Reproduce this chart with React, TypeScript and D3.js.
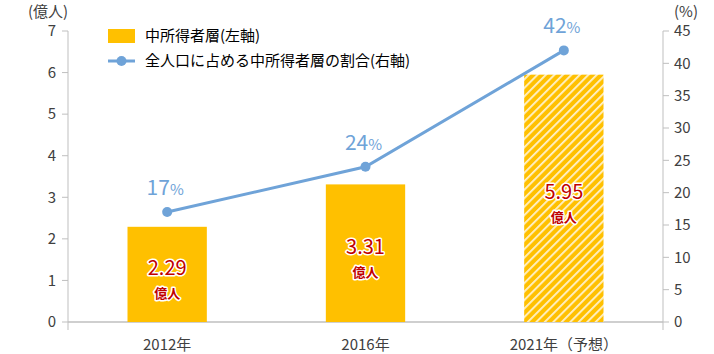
import React, { useEffect, useRef } from 'react';
import * as d3 from 'd3';

const categories = ['2012年', '2016年', '2021年（予想）'];
const population = [2.29, 3.31, 5.95];
const popLabels = ['2.29', '3.31', '5.95'];
const share = [17, 24, 42];
const forecast = [false, false, true];
const leftTicks = [0, 1, 2, 3, 4, 5, 6, 7];
const rightTicks = [0, 5, 10, 15, 20, 25, 30, 35, 40, 45];

const FONT = '"Noto Sans CJK JP", "Noto Sans", sans-serif';

const App = () => {
  const ref = useRef<SVGSVGElement | null>(null);

  useEffect(() => {
    const svg = d3.select(ref.current);
    svg.selectAll('*').remove();

    const left = 68;
    const right = 663;
    const top = 31;
    const bottom = 322;
    const axisColor = '#bfbfbf';
    const textColor = '#404040';
    const blue = '#6fa3d8';

    // hatch pattern for the forecast bar
    const pat = svg.append('defs').append('pattern')
      .attr('id', 'hatch')
      .attr('patternUnits', 'userSpaceOnUse')
      .attr('width', 6)
      .attr('height', 6)
      .attr('patternTransform', 'rotate(45)');
    pat.append('rect').attr('width', 6).attr('height', 6).attr('fill', '#ffc000');
    pat.append('rect').attr('width', 1.8).attr('height', 6).attr('fill', '#fff2cc');

    const x = d3.scaleBand().domain(categories).range([left, right]);
    const yL = d3.scaleLinear().domain([0, 7]).range([bottom, top]);
    const yR = d3.scaleLinear().domain([0, 45]).range([bottom, top]);
    const barW = x.bandwidth() * 0.4;
    const cx = (c: string) => (x(c) as number) + x.bandwidth() / 2;

    // axis lines
    svg.append('line').attr('x1', left).attr('x2', left).attr('y1', top).attr('y2', bottom + 8)
      .attr('stroke', axisColor);
    svg.append('line').attr('x1', right).attr('x2', right).attr('y1', top).attr('y2', bottom + 8)
      .attr('stroke', axisColor);
    svg.append('line').attr('x1', left).attr('x2', right).attr('y1', bottom).attr('y2', bottom)
      .attr('stroke', axisColor).attr('stroke-width', 1.5);

    // left ticks
    const lt = svg.append('g').selectAll('g').data(leftTicks).join('g')
      .attr('transform', (d) => `translate(0,${yL(d)})`);
    lt.append('line').attr('x1', left - 6).attr('x2', left).attr('stroke', axisColor);
    lt.append('text').attr('x', left - 12).attr('dy', '0.35em').attr('text-anchor', 'end')
      .attr('font-size', 15).attr('fill', textColor).attr('font-family', FONT).text((d) => d);

    // right ticks
    const rt = svg.append('g').selectAll('g').data(rightTicks).join('g')
      .attr('transform', (d) => `translate(0,${yR(d)})`);
    rt.append('line').attr('x1', right).attr('x2', right + 6).attr('stroke', axisColor);
    rt.append('text').attr('x', right + 11).attr('dy', '0.35em').attr('text-anchor', 'start')
      .attr('font-size', 15).attr('fill', textColor).attr('font-family', FONT).text((d) => d);

    // unit labels
    svg.append('text').attr('x', 48).attr('y', 17).attr('text-anchor', 'middle')
      .attr('font-size', 15).attr('fill', textColor).attr('font-family', FONT).text('(億人)');
    svg.append('text').attr('x', 686).attr('y', 17).attr('text-anchor', 'middle')
      .attr('font-size', 15).attr('fill', textColor).attr('font-family', FONT).text('(%)');

    // category labels
    svg.append('g').selectAll('text').data(categories).join('text')
      .attr('x', (d) => cx(d)).attr('y', 350).attr('text-anchor', 'middle')
      .attr('font-size', 15).attr('fill', textColor).attr('font-family', FONT).text((d) => d);

    // bars
    svg.append('g').selectAll('rect').data(population).join('rect')
      .attr('x', (_, i) => cx(categories[i]) - barW / 2)
      .attr('width', barW)
      .attr('y', (d) => yL(d))
      .attr('height', (d) => bottom - yL(d))
      .attr('fill', (_, i) => (forecast[i] ? 'url(#hatch)' : '#ffc000'));

    // bar value labels
    const bl = svg.append('g').selectAll('g').data(population).join('g')
      .attr('transform', (d, i) => `translate(${cx(categories[i])},${(yL(d) + bottom) / 2})`);
    bl.append('text').attr('y', 1).attr('text-anchor', 'middle').attr('font-size', 20)
      .attr('font-family', FONT).attr('fill', '#c00000').attr('stroke', '#fff')
      .attr('stroke-width', 3).attr('paint-order', 'stroke').attr('stroke-linejoin', 'round')
      .text((_, i) => popLabels[i]);
    bl.append('text').attr('y', 24).attr('text-anchor', 'middle').attr('font-size', 13)
      .attr('font-weight', 'bold').attr('font-family', FONT).attr('fill', '#c00000')
      .attr('stroke', '#fff').attr('stroke-width', 3).attr('paint-order', 'stroke')
      .attr('stroke-linejoin', 'round').text('億人');

    // share line
    const line = d3.line<number>()
      .x((_, i) => cx(categories[i]))
      .y((d) => yR(d));
    svg.append('path').datum(share).attr('d', line).attr('fill', 'none')
      .attr('stroke', blue).attr('stroke-width', 3);
    svg.append('g').selectAll('circle').data(share).join('circle')
      .attr('cx', (_, i) => cx(categories[i])).attr('cy', (d) => yR(d)).attr('r', 5)
      .attr('fill', blue);

    // percentage labels
    const pl = svg.append('g').selectAll('text').data(share).join('text')
      .attr('x', (_, i) => cx(categories[i]) - 2).attr('y', (d) => yR(d) - 17)
      .attr('text-anchor', 'middle').attr('font-family', FONT).attr('fill', blue);
    pl.append('tspan').attr('font-size', 21).text((d) => d);
    pl.append('tspan').attr('font-size', 15).text('%');

    // legend
    const lg = svg.append('g').attr('font-family', FONT).attr('font-size', 15).attr('fill', '#000');
    lg.append('rect').attr('x', 108).attr('y', 29).attr('width', 27).attr('height', 14).attr('fill', '#ffc000');
    lg.append('text').attr('x', 145).attr('y', 36).attr('dy', '0.35em').text('中所得者層(左軸)');
    lg.append('line').attr('x1', 108).attr('x2', 135).attr('y1', 61).attr('y2', 61)
      .attr('stroke', blue).attr('stroke-width', 3);
    lg.append('circle').attr('cx', 121.5).attr('cy', 61).attr('r', 5).attr('fill', blue);
    lg.append('text').attr('x', 145).attr('y', 61).attr('dy', '0.35em').text('全人口に占める中所得者層の割合(右軸)');
  }, []);

  return (
    <svg
      ref={ref}
      width={714}
      height={354}
      style={{ position: 'absolute', left: 0, top: 0, display: 'block' }}
    />
  );
};

export default App;
